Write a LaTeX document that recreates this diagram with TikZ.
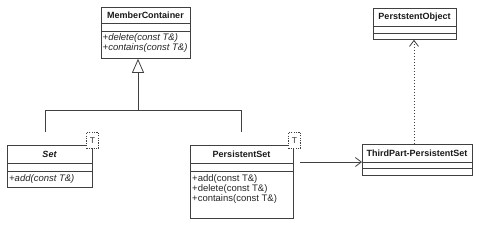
\documentclass[tikz,border=0pt]{standalone}
\usepackage{fontspec}
\setmainfont{Liberation Sans}
\usetikzlibrary{arrows.meta}
\begin{document}
\begin{tikzpicture}[x=1pt,y=-1pt,
  line/.style={draw=black!75,line width=0.8pt},
  box/.style={line,fill=white,inner sep=0pt,anchor=north west},
  ttl/.style={font=\fontsize{9}{10}\selectfont\bfseries,text=black!90,inner sep=0pt},
  mth/.style={font=\fontsize{9.5}{10}\selectfont,text=black!85,inner sep=0pt,anchor=west},
  tpl/.style={draw=black!75,dashed,dash pattern=on 1.2pt off 1.2pt,line width=0.8pt,fill=white,inner sep=0pt,anchor=north west,minimum width=12pt,minimum height=16pt,font=\fontsize{8.5}{9}\selectfont,text=black!80},
  openarrow/.style={-{Straight Barb[length=6pt,width=9pt,line width=0.8pt]}}
]
\useasboundingbox[fill=white] (0,0) rectangle (500,247);

% MemberContainer
\node[box,minimum width=89pt,minimum height=51pt] (mc) at (101,7) {};
\draw[line] (101,23) -- (190,23) (101,31) -- (190,31);
\node[ttl] (mct) at (145.5,15) {MemberContainer};
\node[mth] (mc1) at (102.5,38) {\itshape +delete(const T\&)};
\node[mth] (mc2) at (102.5,48) {\itshape +contains(const T\&)};

% Set
\node[box,minimum width=85pt,minimum height=42pt] (set) at (7,145) {};
\draw[line] (7,163) -- (92,163) (7,171) -- (92,171);
\node[ttl] (sett) at (49.5,154) {\itshape Set};
\node[mth] (set1) at (9,179) {\itshape +add(const T\&)};
\node[tpl] (setT) at (86,132) {T};

% PersistentSet
\node[box,minimum width=103pt,minimum height=73pt] (ps) at (190,145) {};
\draw[line] (190,163) -- (293,163) (190,171) -- (293,171);
\node[ttl] (pst) at (241.5,154) {PersistentSet};
\node[mth] (ps1) at (192,179) {+add(const T\&)};
\node[mth] (ps2) at (192,189) {+delete(const T\&)};
\node[mth] (ps3) at (192,199.5) {+contains(const T\&)};
\node[tpl] (psT) at (288,132) {T};

% ThirdPart-PersistentSet
\node[box,minimum width=110pt,minimum height=31pt] (tp) at (362,144) {};
\draw[line] (362,162) -- (472,162) (362,168) -- (472,168);
\node[ttl] (tpt) at (417,153) {ThirdPart-PersistentSet};

% PerststentObject
\node[box,minimum width=83pt,minimum height=31pt] (po) at (373,8) {};
\draw[line] (373,26) -- (456,26) (373,33) -- (456,33);
\node[ttl] (pot) at (414.5,17) {PerststentObject};

% generalization
\coordinate (setTop) at (45,132);
\coordinate (psTop) at (241,132);
\coordinate (junc) at (138,110);
\draw[line] (setTop) |- (junc);
\draw[line] (psTop) |- (junc);
\draw[line,-{Triangle[open,length=14pt,width=12pt,fill=white]}] (junc) -- (mc.south -| junc);

% association
\coordinate (asStart) at (300,162);
\draw[line,openarrow] (asStart) -- (tp.west |- asStart);

% dependency
\coordinate (depStart) at (414,144);
\draw[line,dashed,dash pattern=on 1.5pt off 1.5pt,openarrow] (tp.north -| depStart) -- (po.south -| depStart);
\end{tikzpicture}
\end{document}
